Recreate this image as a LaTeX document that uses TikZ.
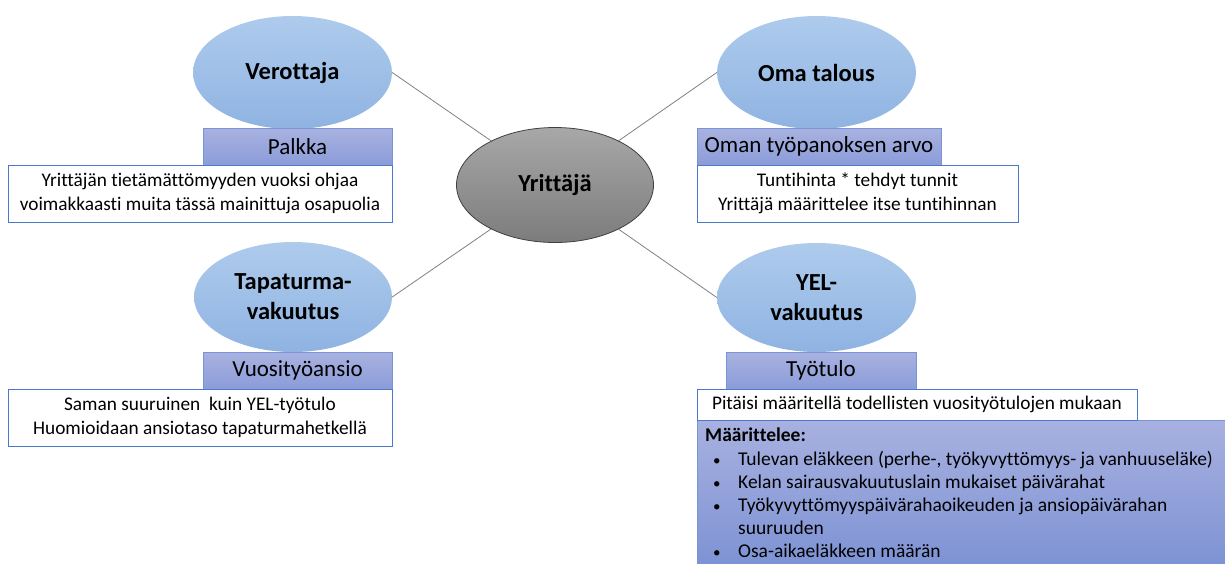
\documentclass[tikz,border=0pt]{standalone}
\usepackage{fontspec}
\setmainfont{Carlito}[Ligatures=NoCommon]
\usetikzlibrary{shapes.geometric}
\definecolor{ellTop}{HTML}{AECBEC}
\definecolor{ellBot}{HTML}{8FB3E2}
\definecolor{hdrTop}{HTML}{A9B2E0}
\definecolor{hdrBot}{HTML}{8B9CD9}
\definecolor{hdrLine}{HTML}{7A92D6}
\definecolor{boxLine}{HTML}{4A78CC}
\definecolor{bigTop}{HTML}{A8B1E0}
\definecolor{bigBot}{HTML}{7E93D4}
\definecolor{grayTop}{HTML}{A8A8A8}
\definecolor{grayBot}{HTML}{7C7C7C}
\definecolor{conLine}{HTML}{808080}
\tikzset{
  party/.style={ellipse, inner sep=0pt, top color=ellTop, bottom color=ellBot, draw=none,
    font=\fontsize{24.5}{30}\selectfont\bfseries, align=center},
  center/.style={ellipse, inner sep=0pt, top color=grayTop, bottom color=grayBot, draw=black!75, line width=0.8pt,
    font=\fontsize{24.5}{30}\selectfont\bfseries},
  hdr/.style={rectangle, inner sep=0pt, top color=hdrTop, bottom color=hdrBot, draw=hdrLine, line width=0.7pt,
    font=\fontsize{23}{27}\selectfont},
  note/.style={rectangle, inner sep=0pt, fill=white, draw=boxLine, line width=0.9pt,
    font=\fontsize{19.3}{23.5}\selectfont, align=center},
  big/.style={rectangle, inner sep=0pt, top color=bigTop, bottom color=bigBot, draw=hdrLine, line width=0.6pt},
  conn/.style={draw=conLine, line width=0.8pt}
}
\begin{document}
\begin{tikzpicture}[x=1pt,y=-1pt]
\useasboundingbox (0,0) rectangle (1225,563);
% big box first (under the Pitaisi box)
\node[big, anchor=north west, minimum width=528pt, minimum height=143pt] (bigbox) at (697,420) {};
\node[anchor=north west, inner sep=0pt, font=\fontsize{19.5}{23.2}\selectfont, align=left] (biglist) at (705,425.5)
{\begin{tabular}{@{}p{33pt}@{}l@{}}
\multicolumn{2}{@{}l}{\textbf{Määrittelee:}}\\
\hspace*{8pt}{\fontsize{15}{15}\selectfont •} & Tulevan eläkkeen (perhe-, työkyvyttömyys- ja vanhuuseläke)\\
\hspace*{8pt}{\fontsize{15}{15}\selectfont •} & Kelan sairausvakuutuslain mukaiset päivärahat\\
\hspace*{8pt}{\fontsize{15}{15}\selectfont •} & Työkyvyttömyyspäivärahaoikeuden ja ansiopäivärahan\\
 & suuruuden\\
\hspace*{8pt}{\fontsize{15}{15}\selectfont •} & Osa-aikaeläkkeen määrän
\end{tabular}};

% ellipses
\node[party, minimum width=199pt, minimum height=113pt] (ver) at (292.5,72.5) {Verottaja};
\node[party, minimum width=199pt, minimum height=113pt] (oma) at (816.5,72.5) {Oma talous};
\node[party, minimum width=198pt, minimum height=110pt] (tap) at (293,297) {Tapaturma-\\vakuutus};
\node[party, minimum width=199pt, minimum height=109pt] (yel) at (816.5,297.5) {YEL-\\vakuutus};
\node[center, minimum width=197pt, minimum height=115pt] (yr) at (555,185) {Yrittäjä};

% connectors
\draw[conn] (ver.east) -- (yr);
\draw[conn] (oma.west) -- (yr);
\draw[conn] (tap.east) -- (yr);
\draw[conn] (yel.west) -- (yr);

% header boxes
\node[hdr, minimum width=189pt, minimum height=37pt] (palkka) at (297.5,146.5) {Palkka};
\node[hdr, minimum width=244pt, minimum height=37pt] (arvo) at (819,146.5) {Oman työpanoksen arvo};
\node[hdr, minimum width=189pt, minimum height=37pt] (ansio) at (297.5,370.5) {Vuosityöansio};
\node[hdr, minimum width=190pt, minimum height=37pt] (tulo) at (821,370.5) {Työtulo};

% note boxes
\node[note, minimum width=384pt, minimum height=57pt] (n1) at (200,193.5)
  {Yrittäjän tietämättömyyden vuoksi ohjaa\\voimakkaasti muita tässä mainittuja osapuolia};
\node[note, minimum width=321pt, minimum height=57pt] (n2) at (857.5,193.5)
  {Tuntihinta * tehdyt tunnit\\Yrittäjä määrittelee itse tuntihinnan};
\node[note, minimum width=384pt, minimum height=57pt] (n3) at (200,417.5)
  {Saman suuruinen \ kuin YEL-työtulo\\Huomioidaan ansiotaso tapaturmahetkellä};
\node[note, minimum width=440pt, minimum height=31pt] (n4) at (917,404.5)
  {Pitäisi määritellä todellisten vuosityötulojen mukaan};
\end{tikzpicture}
\end{document}
